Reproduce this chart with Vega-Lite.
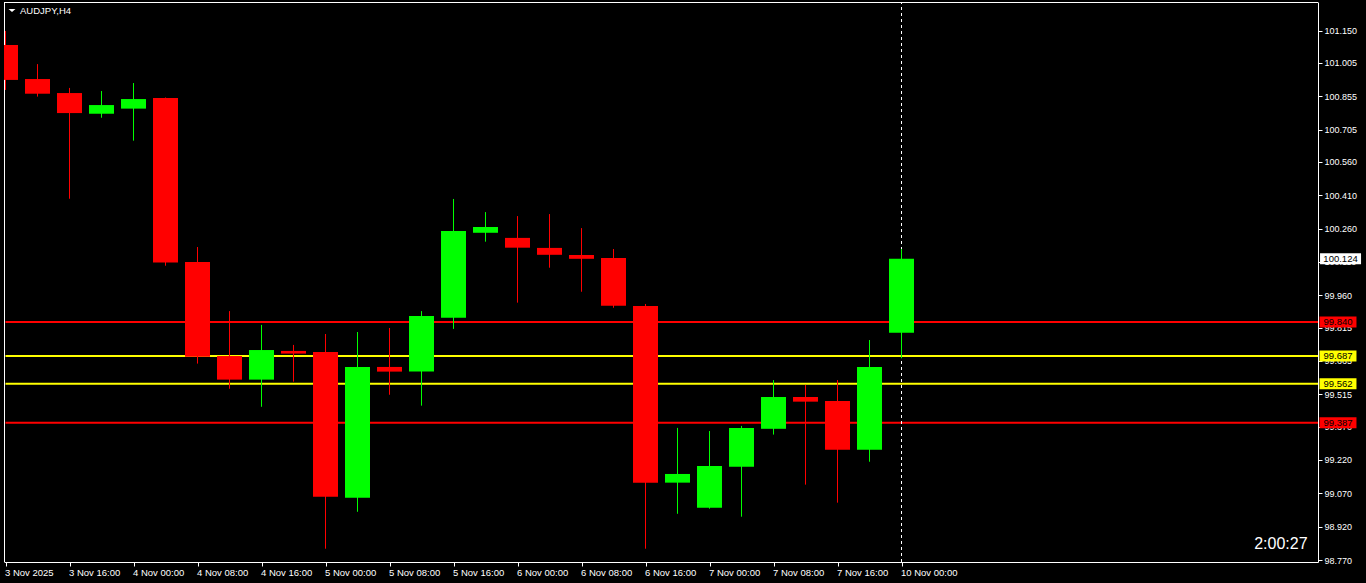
{
  "$schema": "https://vega.github.io/schema/vega-lite/v6.json",
  "width": 1314,
  "height": 560,
  "autosize": {"type": "none"},
  "padding": {"left": 4, "top": 2, "right": 48, "bottom": 21},
  "background": "#000000",
  "config": {
    "view": {"stroke": null},
    "font": "Liberation Sans",
    "scale": {"continuousPadding": 0},
    "axis": {
      "grid": false, "domainColor": "#ffffff", "domainWidth": 1,
      "tickColor": "#ffffff", "tickSize": 4, "tickWidth": 1,
      "labelColor": "#ffffff", "labelFont": "Liberation Sans",
      "labelFlush": false, "labelOverlap": false, "labelBound": false, "labelSeparation": 0, "zindex": 0
    },
    "axisX": {"labelFontSize": 9.5, "labelAlign": "left", "labelBaseline": "top", "labelPadding": 1, "labelOffset": -1},
    "axisY": {"labelFontSize": 9, "labelAlign": "left", "labelBaseline": "middle", "labelPadding": 2}
  },
  "data": {"values": [{}]},
  "datasets": {
    "candles": [
      {"i": 0, "t": "2025-11-03 08:00", "o": 101.085, "h": 101.148, "l": 100.883, "c": 100.928},
      {"i": 1, "t": "2025-11-03 12:00", "o": 100.932, "h": 100.999, "l": 100.853, "c": 100.866},
      {"i": 2, "t": "2025-11-03 16:00", "o": 100.869, "h": 100.892, "l": 100.394, "c": 100.779},
      {"i": 3, "t": "2025-11-03 20:00", "o": 100.776, "h": 100.878, "l": 100.758, "c": 100.815},
      {"i": 4, "t": "2025-11-04 00:00", "o": 100.799, "h": 100.914, "l": 100.655, "c": 100.842},
      {"i": 5, "t": "2025-11-04 04:00", "o": 100.847, "h": 100.849, "l": 100.093, "c": 100.107},
      {"i": 6, "t": "2025-11-04 08:00", "o": 100.110, "h": 100.177, "l": 99.653, "c": 99.684},
      {"i": 7, "t": "2025-11-04 12:00", "o": 99.687, "h": 99.889, "l": 99.540, "c": 99.581},
      {"i": 8, "t": "2025-11-04 16:00", "o": 99.581, "h": 99.827, "l": 99.459, "c": 99.714},
      {"i": 9, "t": "2025-11-04 20:00", "o": 99.710, "h": 99.737, "l": 99.572, "c": 99.698},
      {"i": 10, "t": "2025-11-05 00:00", "o": 99.705, "h": 99.786, "l": 98.821, "c": 99.055},
      {"i": 11, "t": "2025-11-05 04:00", "o": 99.050, "h": 99.795, "l": 98.987, "c": 99.638},
      {"i": 12, "t": "2025-11-05 08:00", "o": 99.638, "h": 99.813, "l": 99.513, "c": 99.617},
      {"i": 13, "t": "2025-11-05 12:00", "o": 99.617, "h": 99.889, "l": 99.464, "c": 99.867},
      {"i": 14, "t": "2025-11-05 16:00", "o": 99.859, "h": 100.393, "l": 99.809, "c": 100.249},
      {"i": 15, "t": "2025-11-05 20:00", "o": 100.241, "h": 100.334, "l": 100.201, "c": 100.267},
      {"i": 16, "t": "2025-11-06 00:00", "o": 100.218, "h": 100.316, "l": 99.927, "c": 100.174},
      {"i": 17, "t": "2025-11-06 04:00", "o": 100.173, "h": 100.325, "l": 100.084, "c": 100.142},
      {"i": 18, "t": "2025-11-06 08:00", "o": 100.141, "h": 100.262, "l": 99.976, "c": 100.124},
      {"i": 19, "t": "2025-11-06 12:00", "o": 100.128, "h": 100.168, "l": 99.904, "c": 99.913},
      {"i": 20, "t": "2025-11-06 16:00", "o": 99.912, "h": 99.921, "l": 98.821, "c": 99.118},
      {"i": 21, "t": "2025-11-06 20:00", "o": 99.118, "h": 99.364, "l": 98.978, "c": 99.157},
      {"i": 22, "t": "2025-11-07 00:00", "o": 99.005, "h": 99.350, "l": 99.001, "c": 99.193},
      {"i": 23, "t": "2025-11-07 04:00", "o": 99.190, "h": 99.373, "l": 98.965, "c": 99.364},
      {"i": 24, "t": "2025-11-07 08:00", "o": 99.360, "h": 99.579, "l": 99.334, "c": 99.503},
      {"i": 25, "t": "2025-11-07 12:00", "o": 99.503, "h": 99.557, "l": 99.109, "c": 99.482},
      {"i": 26, "t": "2025-11-07 16:00", "o": 99.485, "h": 99.579, "l": 99.028, "c": 99.266},
      {"i": 27, "t": "2025-11-07 20:00", "o": 99.266, "h": 99.759, "l": 99.212, "c": 99.638},
      {"i": 28, "t": "2025-11-10 00:00", "o": 99.792, "h": 100.168, "l": 99.677, "c": 100.124}
    ],
    "levels": [
      {"p": 99.840, "kind": "outer"},
      {"p": 99.687, "kind": "inner"},
      {"p": 99.562, "kind": "inner"},
      {"p": 99.387, "kind": "outer"}
    ]
  },
  "layer": [
    {
      "data": {"name": "levels"},
      "mark": {"type": "rule", "strokeWidth": 2},
      "encoding": {
        "x": {
          "datum": 0, "type": "quantitative",
          "scale": {"domain": [-0.046875, 41.015625], "nice": false, "zero": false, "padding": 0},
          "axis": {
            "orient": "bottom", "title": null, "labelOverlap": false, "labelFlush": false, "zindex": 0, "tickCount": 100,
            "values": [0, 2, 4, 6, 8, 10, 12, 14, 16, 18, 20, 22, 24, 26, 28],
            "labelExpr": "['3 Nov 2025','3 Nov 16:00','4 Nov 00:00','4 Nov 08:00','4 Nov 16:00','5 Nov 00:00','5 Nov 08:00','5 Nov 16:00','6 Nov 00:00','6 Nov 08:00','6 Nov 16:00','7 Nov 00:00','7 Nov 08:00','7 Nov 16:00','10 Nov 00:00'][round(datum.value/2)]"
          }
        },
        "x2": {"datum": 41.015625},
        "y": {
          "field": "p", "type": "quantitative",
          "scale": {"domain": [98.76135, 101.2782], "nice": false, "zero": false, "padding": 0},
          "axis": {
            "orient": "right", "title": null, "labelOverlap": false, "labelFlush": false, "zindex": 0, "tickCount": 100,
            "values": [101.150, 101.005, 100.855, 100.705, 100.560, 100.410, 100.260, 100.110, 99.960, 99.815, 99.665, 99.515, 99.370, 99.220, 99.070, 98.920, 98.770],
            "format": ".3f"
          }
        },
        "color": {"field": "kind", "type": "nominal", "scale": {"domain": ["outer", "inner"], "range": ["#ff0000", "#ffff00"]}, "legend": null}
      }
    },
    {
      "mark": {"type": "rule", "color": "#ffffff", "strokeWidth": 1, "strokeDash": [3, 3]},
      "encoding": {
        "x": {"datum": 28, "type": "quantitative", "axis": {"orient": "bottom", "title": null, "labelOverlap": false}},
        "y": {"datum": 98.76135, "type": "quantitative", "axis": {"orient": "right", "title": null, "labelOverlap": false}},
        "y2": {"datum": 101.2782}
      }
    },
    {
      "mark": {"type": "rule", "color": "#ffffff", "strokeWidth": 1},
      "encoding": {
        "x": {"datum": -0.046875, "type": "quantitative", "axis": {"orient": "bottom", "title": null, "labelOverlap": false}},
        "x2": {"datum": 41.015625},
        "y": {"datum": 101.27595, "type": "quantitative", "axis": {"orient": "right", "title": null, "labelOverlap": false}}
      }
    },
    {
      "mark": {"type": "rule", "color": "#ffffff", "strokeWidth": 1},
      "encoding": {
        "x": {"datum": -0.03125, "type": "quantitative", "axis": {"orient": "bottom", "title": null, "labelOverlap": false}},
        "y": {"datum": 98.76135, "type": "quantitative", "axis": {"orient": "right", "title": null, "labelOverlap": false}},
        "y2": {"datum": 101.2782}
      }
    },
    {
      "data": {"name": "candles"},
      "mark": {"type": "rule", "strokeWidth": 1},
      "encoding": {
        "x": {"field": "i", "type": "quantitative", "axis": {"orient": "bottom", "title": null, "labelOverlap": false}},
        "y": {"field": "l", "type": "quantitative", "axis": {"orient": "right", "title": null, "labelOverlap": false}},
        "y2": {"field": "h"},
        "color": {"condition": {"test": "datum.c >= datum.o", "value": "#00ff00"}, "value": "#ff0000"}
      }
    },
    {
      "data": {"name": "candles"},
      "mark": {"type": "bar", "size": 25, "clip": true, "orient": "vertical"},
      "encoding": {
        "x": {"field": "i", "type": "quantitative", "axis": {"orient": "bottom", "title": null, "labelOverlap": false}},
        "y": {"field": "o", "type": "quantitative", "axis": {"orient": "right", "title": null, "labelOverlap": false}},
        "y2": {"field": "c"},
        "color": {"condition": {"test": "datum.c >= datum.o", "value": "#00ff00"}, "value": "#ff0000"}
      }
    },
    {
      "data": {"name": "levels"},
      "mark": {"type": "tick", "orient": "horizontal", "size": 37, "thickness": 11, "opacity": 1},
      "encoding": {
        "x": {"datum": 41.64, "type": "quantitative", "axis": {"orient": "bottom", "title": null, "labelOverlap": false}},
        "y": {"field": "p", "type": "quantitative", "axis": {"orient": "right", "title": null, "labelOverlap": false}},
        "color": {"field": "kind", "type": "nominal", "legend": null}
      }
    },
    {
      "data": {"name": "levels"},
      "mark": {"type": "text", "color": "#000000", "font": "Liberation Sans", "fontSize": 9.5, "align": "center", "baseline": "middle"},
      "encoding": {
        "x": {"datum": 41.64, "type": "quantitative", "axis": {"orient": "bottom", "title": null, "labelOverlap": false}},
        "y": {"field": "p", "type": "quantitative", "axis": {"orient": "right", "title": null, "labelOverlap": false}},
        "text": {"field": "p", "type": "quantitative", "format": ".3f"}
      }
    },
    {
      "data": {"name": "candles"},
      "transform": [{"filter": "datum.i == 28"}],
      "mark": {"type": "tick", "orient": "horizontal", "size": 41, "thickness": 11, "opacity": 1, "color": "#ffffff"},
      "encoding": {
        "x": {"datum": 41.72, "type": "quantitative", "axis": {"orient": "bottom", "title": null, "labelOverlap": false}},
        "y": {"field": "c", "type": "quantitative", "axis": {"orient": "right", "title": null, "labelOverlap": false}}
      }
    },
    {
      "data": {"name": "candles"},
      "transform": [{"filter": "datum.i == 28"}],
      "mark": {"type": "text", "color": "#000000", "font": "Liberation Sans", "fontSize": 9.5, "align": "center", "baseline": "middle"},
      "encoding": {
        "x": {"datum": 41.72, "type": "quantitative", "axis": {"orient": "bottom", "title": null, "labelOverlap": false}},
        "y": {"field": "c", "type": "quantitative", "axis": {"orient": "right", "title": null, "labelOverlap": false}},
        "text": {"field": "c", "type": "quantitative", "format": ".3f"}
      }
    },
    {
      "data": {"values": [{"label": "AUDJPY,H4"}]},
      "mark": {"type": "text", "color": "#ffffff", "font": "Liberation Sans", "fontSize": 9.5, "align": "left", "baseline": "alphabetic"},
      "encoding": {
        "x": {"datum": 0.453, "type": "quantitative", "axis": {"orient": "bottom", "title": null, "labelOverlap": false}},
        "y": {"datum": 101.2243, "type": "quantitative", "axis": {"orient": "right", "title": null, "labelOverlap": false}},
        "text": {"field": "label", "type": "nominal"}
      }
    },
    {
      "mark": {"type": "point", "shape": "M-1,-0.45L1,-0.45L0,0.45Z", "size": 49, "filled": true, "opacity": 1, "color": "#ffffff", "strokeWidth": 0},
      "encoding": {
        "x": {"datum": 0.203, "type": "quantitative", "axis": {"orient": "bottom", "title": null, "labelOverlap": false}},
        "y": {"datum": 101.240, "type": "quantitative", "axis": {"orient": "right", "title": null, "labelOverlap": false}}
      }
    },
    {
      "data": {"values": [{"label": "2:00:27"}]},
      "mark": {"type": "text", "color": "#ffffff", "font": "Liberation Sans", "fontSize": 16, "align": "right", "baseline": "alphabetic"},
      "encoding": {
        "x": {"datum": 40.69, "type": "quantitative", "axis": {"orient": "bottom", "title": null, "labelOverlap": false}},
        "y": {"datum": 98.8198, "type": "quantitative", "axis": {"orient": "right", "title": null, "labelOverlap": false}},
        "text": {"field": "label", "type": "nominal"}
      }
    }
  ]
}
